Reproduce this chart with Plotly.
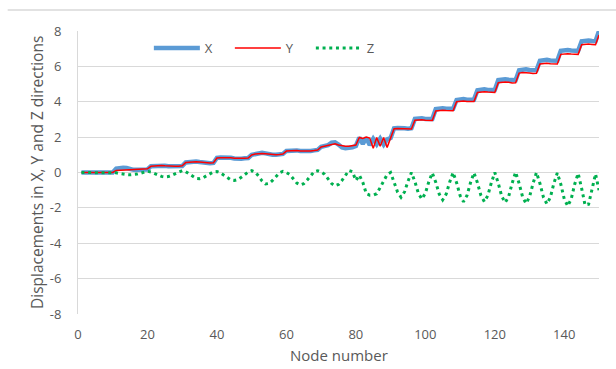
import plotly.graph_objects as go

nodes = list(range(1, 151))

disp_x = [
    0, 0, 0, 0, 0, 0, 0, 0, 0, 0,
    0.22, 0.26, 0.27, 0.25, 0.19, 0.15, 0.15, 0.15, 0.16, 0.17,
    0.36, 0.38, 0.40, 0.41, 0.38, 0.35, 0.34, 0.34, 0.35, 0.37,
    0.57, 0.60, 0.62, 0.62, 0.59, 0.55, 0.52, 0.52, 0.54, 0.83,
    0.85, 0.86, 0.86, 0.83, 0.79, 0.77, 0.78, 0.80, 0.82, 1.00,
    1.06, 1.10, 1.12, 1.08, 1.03, 1.00, 1.00, 1.02, 1.05, 1.22,
    1.24, 1.25, 1.25, 1.22, 1.20, 1.20, 1.22, 1.25, 1.28, 1.45,
    1.50, 1.55, 1.68, 1.70, 1.58, 1.42, 1.37, 1.37, 1.42, 1.50,
    1.98, 1.62, 1.95, 1.55, 1.90, 1.60, 1.92, 1.58, 1.88, 1.95,
    2.50, 2.52, 2.53, 2.50, 2.48, 2.50, 3.03, 3.06, 3.06, 3.03,
    3.00, 3.02, 3.58, 3.62, 3.63, 3.60, 3.58, 3.60, 4.10, 4.14,
    4.15, 4.12, 4.10, 4.12, 4.65, 4.70, 4.70, 4.67, 4.64, 4.66,
    5.22, 5.26, 5.27, 5.24, 5.20, 5.22, 5.78, 5.82, 5.83, 5.80,
    5.77, 5.78, 6.32, 6.36, 6.37, 6.33, 6.30, 6.32, 6.88, 6.92,
    6.93, 6.90, 6.87, 6.88, 7.42, 7.46, 7.46, 7.43, 7.42, 8.00,
]

disp_y = [
    0, 0, 0, 0, 0, 0, 0, 0, 0, 0,
    0.12, 0.13, 0.14, 0.15, 0.19, 0.21, 0.21, 0.20, 0.20, 0.21,
    0.35, 0.37, 0.39, 0.40, 0.38, 0.36, 0.35, 0.35, 0.36, 0.38,
    0.56, 0.59, 0.61, 0.61, 0.59, 0.56, 0.54, 0.54, 0.55, 0.82,
    0.84, 0.85, 0.85, 0.83, 0.80, 0.79, 0.79, 0.80, 0.82, 0.99,
    1.04, 1.07, 1.08, 1.06, 1.03, 1.01, 1.01, 1.02, 1.04, 1.21,
    1.23, 1.24, 1.24, 1.22, 1.21, 1.21, 1.22, 1.24, 1.27, 1.44,
    1.48, 1.52, 1.60, 1.62, 1.55, 1.50, 1.48, 1.48, 1.50, 1.55,
    1.98, 1.92, 2.00, 1.95, 1.37, 1.98, 1.48, 1.98, 1.42, 1.95,
    2.47, 2.49, 2.49, 2.47, 2.45, 2.46, 2.96, 2.98, 2.98, 2.96,
    2.93, 2.94, 3.48, 3.52, 3.52, 3.50, 3.48, 3.49, 4.00, 4.04,
    4.04, 4.02, 4.00, 4.01, 4.53, 4.57, 4.57, 4.55, 4.52, 4.53,
    5.08, 5.12, 5.12, 5.10, 5.06, 5.07, 5.62, 5.65, 5.66, 5.63,
    5.60, 5.61, 6.14, 6.17, 6.18, 6.15, 6.12, 6.13, 6.68, 6.72,
    6.72, 6.70, 6.67, 6.68, 7.22, 7.26, 7.26, 7.24, 7.22, 7.78,
]

disp_z = [
    0, 0, 0, 0, 0, 0, 0, 0, 0, 0,
    -0.02, -0.06, -0.10, -0.12, -0.13, -0.12, -0.09, -0.04, 0.02, 0.07,
    0.03, -0.05, -0.15, -0.22, -0.25, -0.23, -0.16, -0.06, 0.04, 0.10,
    0.05, -0.08, -0.22, -0.33, -0.35, -0.30, -0.18, -0.06, 0.03, 0.05,
    -0.02, -0.15, -0.30, -0.42, -0.45, -0.40, -0.27, -0.11, 0.03, 0.10,
    0.02, -0.20, -0.48, -0.65, -0.62, -0.45, -0.22, -0.02, 0.06, 0.00,
    -0.12, -0.35, -0.60, -0.70, -0.63, -0.42, -0.15, 0.05, 0.10, 0.04,
    -0.10, -0.35, -0.62, -0.75, -0.68, -0.45, -0.15, 0.12, 0.05, -0.45,
    -0.15, -0.55, -1.20, -1.28, -1.28, -1.20, -0.85, -0.45, -0.12, 0.00,
    -0.50, -1.10, -1.40, -1.10, -0.50, 0.00, -0.52, -1.18, -1.50, -1.18,
    -0.52, -0.02, -0.55, -1.22, -1.55, -1.22, -0.55, 0.00, -0.58, -1.30,
    -1.65, -1.30, -0.58, -0.02, -0.58, -1.30, -1.65, -1.30, -0.58, 0.00,
    -0.60, -1.35, -1.70, -1.35, -0.60, 0.02, -0.62, -1.38, -1.75, -1.38,
    -0.62, 0.00, -0.62, -1.40, -1.78, -1.40, -0.62, -0.02, -0.66, -1.50,
    -1.90, -1.50, -0.66, -0.05, -0.90, -1.85, -1.80, -0.90, -0.08, -1.00,
]

x_ticks = [0, 20, 40, 60, 80, 100, 120, 140]
y_ticks = [-8, -6, -4, -2, 0, 2, 4, 6, 8]

FONT = "Open Sans"
TXT = "#595959"
GRID = "#d9d9d9"

fig = go.Figure()
fig.add_trace(go.Scatter(x=nodes, y=disp_x, mode="lines", name="X",
                         line=dict(color="#5b9bd5", width=4.5)))
fig.add_trace(go.Scatter(x=nodes, y=disp_y, mode="lines", name="Y",
                         line=dict(color="#ff0000", width=1.5)))
fig.add_trace(go.Scatter(x=nodes, y=disp_z, mode="lines", name="Z",
                         line=dict(color="#00b050", width=3, dash="3px,3.7px")))

fig.update_layout(
    width=616, height=369,
    margin=dict(l=77.5, r=17.3, t=31, b=55),
    paper_bgcolor="white", plot_bgcolor="white",
    font=dict(family=FONT, size=12, color=TXT),
    showlegend=True,
    legend=dict(orientation="h", x=0.136, y=0.94, xanchor="left", yanchor="middle",
                bgcolor="rgba(255,255,255,0)", font=dict(size=13, color=TXT),
                itemwidth=46, entrywidth=20, entrywidthmode="pixels",
                traceorder="normal"),
    xaxis=dict(range=[0, 150], tickvals=x_ticks, ticktext=[str(v) for v in x_ticks],
               showgrid=False, zeroline=False, showline=False,
               ticks="outside", ticklen=8, tickcolor="rgba(0,0,0,0)",
               tickfont=dict(size=13, color=TXT)),
    yaxis=dict(range=[-8, 8], tickvals=y_ticks, ticktext=[str(v) for v in y_ticks],
               showgrid=True, gridcolor=GRID, gridwidth=1, zeroline=False,
               showline=True, linecolor=GRID, linewidth=1,
               ticks="outside", ticklen=13, tickcolor="rgba(0,0,0,0)",
               tickfont=dict(size=13, color=TXT)),
    annotations=[
        dict(text="Displacements in X, Y and Z directions", xref="paper", yref="paper",
             x=-0.0796, y=0.5, textangle=-90, showarrow=False,
             font=dict(size=15.5, color=TXT), xanchor="center", yanchor="middle"),
        dict(text="Node number", xref="paper", yref="paper",
             x=0.5, y=-0.145, showarrow=False,
             font=dict(size=15, color=TXT), xanchor="center", yanchor="middle"),
    ],
    shapes=[
        dict(type="line", xref="paper", yref="paper", x0=-0.135, x1=1.04,
             y0=1.074, y1=1.074, line=dict(color=GRID, width=1.5)),
    ],
)

fig.write_html("out.html")
